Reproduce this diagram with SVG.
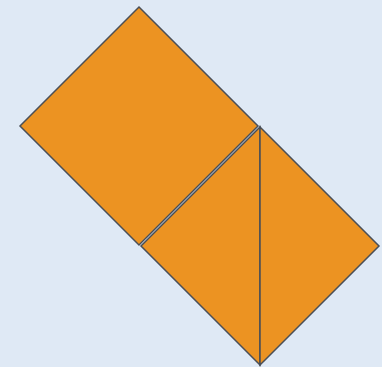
<svg xmlns="http://www.w3.org/2000/svg" width="382" height="367" viewBox="0 0 382 367">
<style>
.s{fill:#ec9322;stroke:#4a4f57;stroke-width:1.5;stroke-linejoin:miter}
</style>
<rect width="382" height="367" fill="#dfe9f5"/>
<g id="square"><polygon class="s" points="139,7 258,126 139,245 20,126"/></g>
<g id="triangle-left"><polygon class="s" points="260,127 141,246 260,365"/></g>
<g id="triangle-right"><polygon class="s" points="260,127 379,246 260,365"/></g>
<g id="connectors"></g>
</svg>
